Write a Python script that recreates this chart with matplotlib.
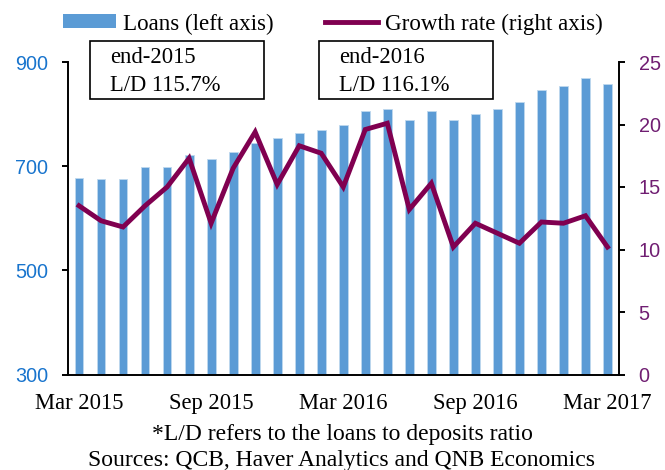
import matplotlib
matplotlib.use("Agg")
import matplotlib.pyplot as plt
from matplotlib.patches import Patch, Rectangle
from matplotlib.lines import Line2D

months = ["Mar 2015", "Apr 2015", "May 2015", "Jun 2015", "Jul 2015", "Aug 2015",
          "Sep 2015", "Oct 2015", "Nov 2015", "Dec 2015", "Jan 2016", "Feb 2016",
          "Mar 2016", "Apr 2016", "May 2016", "Jun 2016", "Jul 2016", "Aug 2016",
          "Sep 2016", "Oct 2016", "Nov 2016", "Dec 2016", "Jan 2017", "Feb 2017",
          "Mar 2017"]
loans = [678, 675, 675, 698, 698, 721, 713, 728, 744, 755, 763, 770,
         779, 805, 809, 789, 805, 789, 801, 809, 823, 846, 854, 869, 858]
growth = [13.5, 12.3, 11.8, 13.5, 15.0, 17.3, 12.1, 16.5, 19.4, 15.2, 18.3, 17.7,
          15.0, 19.6, 20.1, 13.2, 15.3, 10.2, 12.1, 11.3, 10.5, 12.2, 12.1, 12.7, 10.2]
xtick_labels = ["Mar 2015", "Sep 2015", "Mar 2016", "Sep 2016", "Mar 2017"]
left_ticks = [300, 500, 700, 900]
right_ticks = [0, 5, 10, 15, 20, 25]

BAR = "#5B9BD5"
LINE = "#800050"
LBLUE = "#1874CD"
RPURP = "#701E72"
SERIF = "Liberation Serif"
SANS = "Liberation Sans"

W, H = 665, 470
fig = plt.figure(figsize=(W / 100, H / 100), dpi=100)
ax = fig.add_axes([68 / W, (H - 374.5) / H, 550.5 / W, 312.5 / H])
ax2 = ax.twinx()

x = list(range(len(months)))
ax.bar(x, loans, width=0.4, color=BAR, edgecolor="#BFD8EE", linewidth=0.6, zorder=2)
ax2.plot(x, growth, color=LINE, lw=3.5, solid_joinstyle="miter", zorder=3)

ax.set_xlim(-0.5, len(months) - 0.5)
ax.set_ylim(300, 900)
ax2.set_ylim(0, 25)
ax.set_yticks(left_ticks)
ax2.set_yticks(right_ticks)

tick_idx = [months.index(m) for m in xtick_labels]
ax.set_xticks(tick_idx)
ax.set_xticklabels(xtick_labels, fontfamily=SERIF, fontsize=16.3)
ax.tick_params(axis="x", length=0, pad=13)
ax.tick_params(axis="y", direction="out", length=4.5, width=1.4, pad=10,
               labelsize=14.3, labelcolor=LBLUE)
ax2.tick_params(axis="y", direction="out", length=4.5, width=1.4, pad=10,
                labelsize=14.3, labelcolor=RPURP)
for lab in ax.get_yticklabels() + ax2.get_yticklabels():
    lab.set_fontfamily(SANS)

for a in (ax, ax2):
    a.spines["top"].set_visible(False)
    for s in a.spines.values():
        s.set_linewidth(1.4)
ax.spines["right"].set_visible(False)
ax2.spines["left"].set_visible(False)
ax2.spines["bottom"].set_visible(False)
ax.set_zorder(ax2.get_zorder() - 1)
ax2.patch.set_visible(False)

handles = [Patch(facecolor=BAR, edgecolor="none"), Line2D([0], [0], color=LINE, lw=3.5)]
fig.legend(handles, ["Loans (left axis)", "Growth rate (right axis)"],
           loc="center", bbox_to_anchor=(333 / W, 1 - 24 / H), ncol=2, frameon=False,
           prop={"family": SERIF, "size": 16.6}, handlelength=2.3, handleheight=0.55,
           handletextpad=0.3, columnspacing=2.25, borderaxespad=0, borderpad=0)

boxes = [(90, "end-2015", "L/D 115.7%"), (319, "end-2016", "L/D 116.1%")]
for bx, l1, l2 in boxes:
    fig.patches.append(Rectangle((bx / W, (H - 99) / H), 174 / W, 58.3 / H,
                                 transform=fig.transFigure, fill=False,
                                 edgecolor="black", linewidth=1.2))
    fig.text((bx + 20) / W, 1 - 63 / H, l1, fontfamily=SERIF, fontsize=16.3, va="baseline")
    fig.text((bx + 20) / W, 1 - 91 / H, l2, fontfamily=SERIF, fontsize=16.3, va="baseline")

fig.text(342 / W, 1 - 440 / H, "*L/D refers to the loans to deposits ratio",
         fontfamily=SERIF, fontsize=17, ha="center", va="baseline")
fig.text(342 / W, 1 - 466 / H, "Sources: QCB, Haver Analytics and QNB Economics",
         fontfamily=SERIF, fontsize=17, ha="center", va="baseline")

fig.savefig("out.png", dpi=100)
